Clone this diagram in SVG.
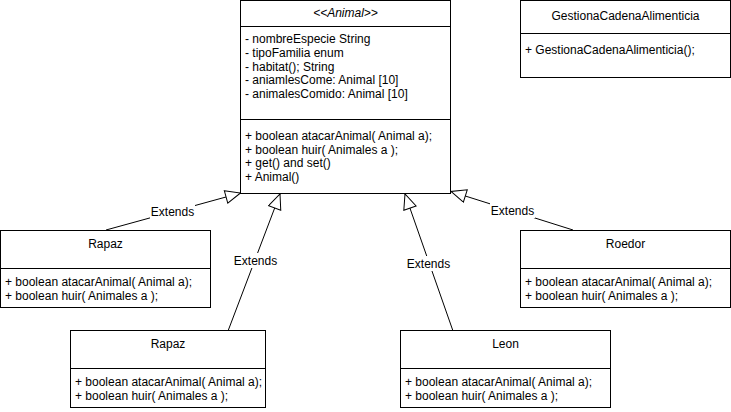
<svg xmlns="http://www.w3.org/2000/svg" width="731" height="412" viewBox="0 0 731 412">
<style>
  .box { fill: #ffffff; stroke: #000000; stroke-width: 1; }
  .div { stroke: #000000; stroke-width: 1; }
  text { font-family: "Liberation Sans", Arial, sans-serif; font-size: 12px; fill: #000000; }
  .ttl { text-anchor: middle; }
  .edge { stroke: #000000; stroke-width: 1; fill: none; marker-end: url(#ext); }
  .lblbg { fill: #ffffff; }
</style>
<defs>
  <marker id="ext" markerUnits="userSpaceOnUse" markerWidth="20" markerHeight="18" refX="16" refY="7" orient="auto">
    <path d="M1,0.5 L16,7 L1,13.5 Z" fill="#ffffff" stroke="#000000" stroke-width="1"/>
  </marker>
</defs>
<rect width="731" height="412" fill="#ffffff"/>

<g id="connectors">
  <path class="edge" d="M106,230 L240.5,193"/>
  <path class="edge" d="M228,331 L280,194"/>
  <path class="edge" d="M453,331 L405,194"/>
  <path class="edge" d="M573,230 L451,191.5"/>
  <rect class="lblbg" x="150" y="204" width="45" height="15"/>
  <text class="ttl" x="172.5" y="215.5">Extends</text>
  <rect class="lblbg" x="233" y="253" width="45" height="15"/>
  <text class="ttl" x="255.5" y="264.5">Extends</text>
  <rect class="lblbg" x="406" y="256" width="45" height="15"/>
  <text class="ttl" x="428.5" y="267.5">Extends</text>
  <rect class="lblbg" x="490" y="203" width="45" height="15"/>
  <text class="ttl" x="512.5" y="214.5">Extends</text>
</g>

<g id="animal">
  <rect class="box" x="240.5" y="0.5" width="210" height="193"/>
  <line class="div" x1="240.5" y1="26.5" x2="450.5" y2="26.5"/>
  <line class="div" x1="240.5" y1="119.5" x2="450.5" y2="119.5"/>
  <text class="ttl" x="345.5" y="17" font-style="italic">&lt;&lt;Animal&gt;&gt;</text>
  <text x="245" y="43">- nombreEspecie String</text>
  <text x="245" y="57">- tipoFamilia enum</text>
  <text x="245" y="71">- habitat(); String</text>
  <text x="245" y="84">- aniamlesCome: Animal [10]</text>
  <text x="245" y="98">- animalesComido: Animal [10]</text>
  <text x="245" y="140">+ boolean atacarAnimal( Animal a);</text>
  <text x="245" y="154">+ boolean huir( Animales a );</text>
  <text x="245" y="167">+ get() and set()</text>
  <text x="245" y="181">+ Animal()</text>
</g>

<g id="gestiona">
  <rect class="box" x="520.5" y="0.5" width="210" height="77"/>
  <line class="div" x1="520.5" y1="33.5" x2="730.5" y2="33.5"/>
  <text class="ttl" x="625.5" y="20">GestionaCadenaAlimenticia</text>
  <text x="525" y="54">+ GestionaCadenaAlimenticia();</text>
</g>

<g id="rapaz1">
  <rect class="box" x="0.5" y="230.5" width="210" height="77"/>
  <line class="div" x1="0.5" y1="268.5" x2="210.5" y2="268.5"/>
  <text class="ttl" x="105.5" y="248">Rapaz</text>
  <text x="5" y="286">+ boolean atacarAnimal( Animal a);</text>
  <text x="5" y="300">+ boolean huir( Animales a );</text>
</g>

<g id="roedor">
  <rect class="box" x="520.5" y="230.5" width="210" height="77"/>
  <line class="div" x1="520.5" y1="268.5" x2="730.5" y2="268.5"/>
  <text class="ttl" x="625.5" y="248">Roedor</text>
  <text x="525" y="286">+ boolean atacarAnimal( Animal a);</text>
  <text x="525" y="300">+ boolean huir( Animales a );</text>
</g>

<g id="rapaz2">
  <rect class="box" x="70.5" y="330.5" width="195" height="77"/>
  <line class="div" x1="70.5" y1="368.5" x2="265.5" y2="368.5"/>
  <text class="ttl" x="168" y="348">Rapaz</text>
  <text x="75" y="386">+ boolean atacarAnimal( Animal a);</text>
  <text x="75" y="400">+ boolean huir( Animales a );</text>
</g>

<g id="leon">
  <rect class="box" x="400.5" y="330.5" width="210" height="77"/>
  <line class="div" x1="400.5" y1="368.5" x2="610.5" y2="368.5"/>
  <text class="ttl" x="505.5" y="348">Leon</text>
  <text x="405" y="386">+ boolean atacarAnimal( Animal a);</text>
  <text x="405" y="400">+ boolean huir( Animales a );</text>
</g>
</svg>
